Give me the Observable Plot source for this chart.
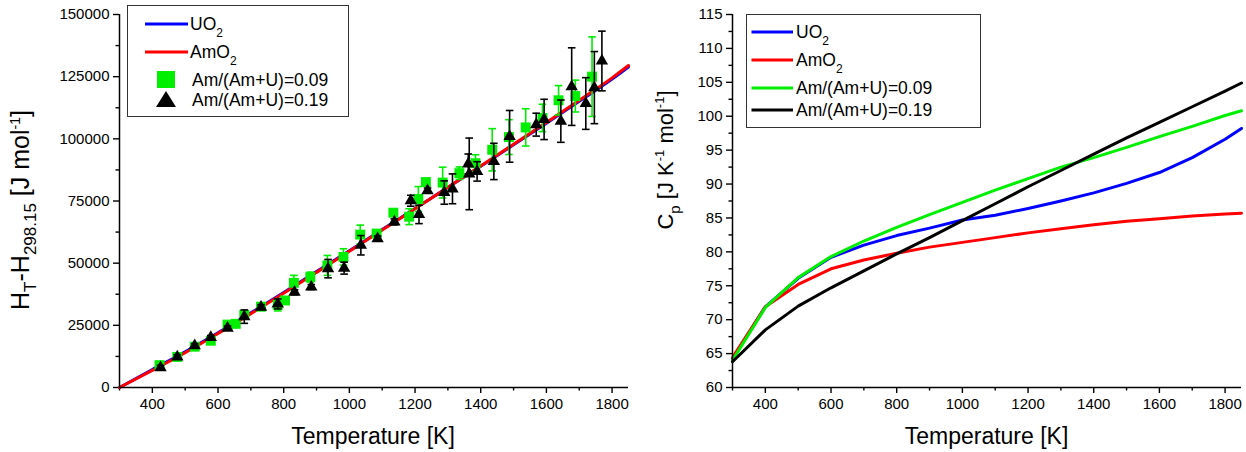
<!DOCTYPE html>
<html>
<head>
<meta charset="utf-8">
<script src="https://cdn.jsdelivr.net/npm/d3@7"></script>
<script src="https://cdn.jsdelivr.net/npm/@observablehq/plot@0.6"></script>
<style>
  html, body { margin: 0; padding: 0; background: #fff; }
  #wrap { position: relative; width: 1246px; height: 452px; overflow: hidden; background: #fff; }
  #left, #right { position: absolute; top: 0; }
  #left { left: 0; }
  #right { left: 640px; }
</style>
</head>
<body>
<div id="wrap"><div id="left"></div><div id="right"></div></div>
<script>
// ---------- DATA ----------
// Temperature grid of the calculated curves (K)
const tempGrid = [300, 400, 500, 600, 700, 800, 900, 1000, 1100, 1200, 1300, 1400, 1500, 1600, 1700, 1800, 1850];

// Left panel: enthalpy increment H_T - H_298.15 (J/mol)
const hUO2  = [0, 7200, 14400, 22000, 30000, 38200, 46600, 55000, 63500, 72000, 80500, 89000, 97600, 106300, 115100, 124000, 128900];
const hAmO2 = [0, 6900, 14000, 21700, 29700, 37900, 46300, 54800, 63300, 71900, 80500, 89100, 97800, 106600, 115500, 124500, 129500];

// Experimental points, Am/(Am+U)=0.09
const expT09   = [422, 476, 529, 578, 629, 654, 680, 731, 782, 804, 831, 881, 933, 982, 1033, 1083, 1134, 1182, 1210, 1233, 1284, 1335, 1384, 1435, 1486, 1537, 1588, 1637, 1688, 1739];
const expH09   = [9000, 12300, 16400, 18800, 25300, 25600, 29200, 32500, 33200, 35000, 42100, 44400, 49100, 52500, 61500, 61900, 70300, 68700, 75800, 82600, 82400, 86200, 90200, 95600, 100700, 104600, 108400, 115500, 117200, 125000];
const expErr09 = [800, 900, 1000, 1200, 1200, 1000, 1500, 1200, 2400, 800, 3000, 2000, 4000, 3300, 3800, 1200, 1000, 3200, 5000, 1500, 6200, 2500, 3400, 8500, 7000, 7500, 5500, 5900, 6400, 16000];

// Experimental points, Am/(Am+U)=0.19
const expT19   = [425, 476, 529, 578, 629, 680, 731, 782, 833, 884, 935, 984, 1035, 1086, 1137, 1187, 1212, 1238, 1289, 1314, 1365, 1362, 1389, 1440, 1488, 1569, 1593, 1644, 1677, 1720, 1746, 1769];
const expH19   = [8000, 12300, 16800, 20100, 23900, 28500, 32300, 33600, 38300, 40400, 47800, 48000, 57200, 59900, 66600, 75100, 69600, 79200, 78400, 79900, 85900, 89900, 86900, 90900, 101000, 105700, 107800, 107100, 121000, 114200, 120600, 131300];
const expErr19 = [900, 900, 800, 800, 800, 2700, 1000, 2000, 1000, 1000, 3700, 2400, 3900, 1000, 1200, 2200, 3700, 1000, 4700, 6000, 14400, 4000, 3900, 7300, 10400, 4600, 8100, 8500, 15600, 10400, 14500, 12000];

// Right panel: heat capacity Cp (J/K/mol)
const cpUO2  = [64.2, 71.9, 76.1, 79.2, 81.0, 82.4, 83.5, 84.7, 85.4, 86.4, 87.5, 88.7, 90.1, 91.7, 93.9, 96.6, 98.2];
const cpAmO2 = [64.4, 71.9, 75.2, 77.5, 78.8, 79.8, 80.7, 81.4, 82.1, 82.8, 83.4, 84.0, 84.5, 84.9, 85.3, 85.6, 85.7];
const cpAm09 = [64.0, 71.8, 76.2, 79.3, 81.6, 83.6, 85.5, 87.3, 89.1, 90.8, 92.5, 93.9, 95.4, 97.0, 98.5, 100.1, 100.8];
const cpAm19 = [63.8, 68.5, 72.0, 74.7, 77.2, 79.7, 82.1, 84.6, 87.1, 89.6, 92.0, 94.4, 96.8, 99.1, 101.4, 103.7, 104.9];

// Tick values
const xMajor = [400, 600, 800, 1000, 1200, 1400, 1600, 1800];
const xMinor = [300, 500, 700, 900, 1100, 1300, 1500, 1700];
const hMajor = [0, 25000, 50000, 75000, 100000, 125000, 150000];
const hMinor = [12500, 37500, 62500, 87500, 112500, 137500];
const cpMajor = [60, 65, 70, 75, 80, 85, 90, 95, 100, 105, 110, 115];
const cpMinor = [62.5, 67.5, 72.5, 77.5, 82.5, 87.5, 92.5, 97.5, 102.5, 107.5, 112.5];

// Legend labels
const legendLeft  = [["UO", "2"], ["AmO", "2"], ["Am/(Am+U)=0.09", ""], ["Am/(Am+U)=0.19", ""]];
const legendRight = [["UO", "2"], ["AmO", "2"], ["Am/(Am+U)=0.09", ""], ["Am/(Am+U)=0.19", ""]];

// ---------- BUILD TABLES ----------
const BLUE = "#0000ff", RED = "#ff0000", GREEN = "#00ee00", BLACK = "#000000";
const FONT = "'Liberation Sans', Arial, Helvetica, sans-serif";

const curveH = [];
tempGrid.forEach((t, i) => curveH.push({T: t, v: hUO2[i], s: "UO2"}));
tempGrid.forEach((t, i) => curveH.push({T: t, v: hAmO2[i], s: "AmO2"}));
const pts09 = expT09.map((t, i) => ({T: t, H: expH09[i], e: expErr09[i]}));
const pts19 = expT19.map((t, i) => ({T: t, H: expH19[i], e: expErr19[i]}));

const cpSeries = [["UO2", cpUO2, BLUE], ["AmO2", cpAmO2, RED], ["0.09", cpAm09, GREEN], ["0.19", cpAm19, BLACK]];
const curveCp = cpSeries.flatMap(([s, arr]) => tempGrid.map((t, i) => ({T: t, v: arr[i], s})));

const capSymbol = {
  draw(context, size) {
    const w = Math.sqrt(size / Math.PI);
    context.moveTo(-w, 0);
    context.lineTo(w, 0);
  }
};

const fmt = d3.format("d");
function axes(major, minor, yMajor, yMinor) {
  return [
    Plot.axisX({ticks: major, tickSize: 6, tickPadding: 5, tickFormat: fmt, label: null, fontSize: 15, strokeWidth: 1.4}),
    Plot.axisX({ticks: minor, tickSize: 3.5, tickFormat: () => "", label: null, strokeWidth: 1.4}),
    Plot.axisY({ticks: yMajor, tickSize: 6, tickPadding: 4, tickFormat: fmt, label: null, fontSize: 15, strokeWidth: 1.4}),
    Plot.axisY({ticks: yMinor, tickSize: 3.5, tickFormat: () => "", label: null, strokeWidth: 1.4})
  ];
}

function errorBars(data, color) {
  return [
    Plot.ruleX(data, {x: "T", y1: d => d.H - d.e, y2: d => d.H + d.e, stroke: color, strokeWidth: 1.6}),
    Plot.dot(data, {x: "T", y: d => d.H - d.e, symbol: capSymbol, r: 3.8, stroke: color, fill: "none", strokeWidth: 1.6}),
    Plot.dot(data, {x: "T", y: d => d.H + d.e, symbol: capSymbol, r: 3.8, stroke: color, fill: "none", strokeWidth: 1.6})
  ];
}

const left = Plot.plot({
  width: 640, height: 452,
  marginLeft: 119, marginRight: 12, marginTop: 14, marginBottom: 65,
  style: {fontFamily: FONT, fontSize: "15px", color: "#000", background: "#fff", overflow: "visible"},
  x: {domain: [300, 1850]},
  y: {domain: [0, 150000]},
  marks: [
    ...axes(xMajor, xMinor, hMajor, hMinor),
    Plot.line(curveH.filter(d => d.s === "UO2"), {x: "T", y: "v", stroke: BLUE, strokeWidth: 3, curve: "monotone-x"}),
    Plot.line(curveH.filter(d => d.s === "AmO2"), {x: "T", y: "v", stroke: RED, strokeWidth: 3, curve: "monotone-x"}),
    ...errorBars(pts09, GREEN),
    Plot.dot(pts09, {x: "T", y: "H", symbol: "square", r: 5.6, fill: GREEN, stroke: "none"}),
    ...errorBars(pts19, BLACK),
    Plot.dot(pts19, {x: "T", y: "H", symbol: "triangle", r: 4.6, fill: BLACK, stroke: "none"}),
    Plot.ruleX([300], {stroke: "#000", strokeWidth: 1.5}),
    Plot.ruleY([0], {stroke: "#000", strokeWidth: 1.5})
  ]
});

const right = Plot.plot({
  width: 606, height: 452,
  marginLeft: 92, marginRight: 5, marginTop: 14, marginBottom: 65,
  style: {fontFamily: FONT, fontSize: "15px", color: "#000", background: "#fff", overflow: "visible"},
  x: {domain: [300, 1850]},
  y: {domain: [60, 115]},
  marks: [
    ...axes(xMajor, xMinor, cpMajor, cpMinor),
    ...cpSeries.map(([s, , c]) => Plot.line(curveCp.filter(d => d.s === s), {x: "T", y: "v", stroke: c, strokeWidth: 3})),
    Plot.ruleX([300], {stroke: "#000", strokeWidth: 1.5}),
    Plot.ruleY([60], {stroke: "#000", strokeWidth: 1.5})
  ]
});

document.getElementById("left").appendChild(left);
document.getElementById("right").appendChild(right);

// ---------- rich text helper (titles with sub/superscripts) ----------
function richText(svg, x, y, parts, {rotate = 0, anchor = "middle", size = 21} = {}) {
  const t = d3.select(svg).append("text")
    .attr("transform", `translate(${x},${y})` + (rotate ? ` rotate(${rotate})` : ""))
    .attr("text-anchor", anchor)
    .attr("font-family", FONT)
    .attr("font-size", size)
    .attr("fill", "#000");
  let cur = 0;
  for (const p of parts) {
    const shift = p.shift || 0;
    t.append("tspan").attr("dy", shift - cur).attr("font-size", p.size || size).text(p.t);
    cur = shift;
  }
  return t;
}

// x titles
richText(left, 373, 444, [{t: "Temperature [K]"}], {size: 23});
richText(right, 92 + 254.5, 444, [{t: "Temperature [K]"}], {size: 23});

// y titles
richText(left, 29, 210, [
  {t: "H"}, {t: "T", shift: 7, size: 17}, {t: "-H"}, {t: "298.15", shift: 7, size: 17},
  {t: " [J mol"}, {t: "-1", shift: -9, size: 14}, {t: "]"}
], {rotate: -90, size: 25});
richText(right, 33, 160, [
  {t: "C"}, {t: "p", shift: 7, size: 15}, {t: " [J K"}, {t: "-1", shift: -9, size: 13},
  {t: " mol"}, {t: "-1", shift: -9, size: 13}, {t: "]"}
], {rotate: -90, size: 22});

// ---------- legends ----------
function legend(svg, box, rows) {
  const g = d3.select(svg).append("g").attr("text-anchor", "start");
  g.append("rect").attr("x", box.x).attr("y", box.y).attr("width", box.w).attr("height", box.h)
    .attr("fill", "#fff").attr("stroke", "#333").attr("stroke-width", 1);
  rows.forEach(r => {
    if (r.kind === "line") {
      g.append("line").attr("x1", r.x1).attr("x2", r.x2).attr("y1", r.y).attr("y2", r.y)
        .attr("stroke", r.color).attr("stroke-width", 3);
    } else if (r.kind === "square") {
      g.append("rect").attr("x", r.cx - 9).attr("y", r.y - 9).attr("width", 18).attr("height", 17).attr("fill", r.color);
    } else if (r.kind === "triangle") {
      g.append("path").attr("d", `M${r.cx},${r.y - 9}L${r.cx + 10},${r.y + 7}L${r.cx - 10},${r.y + 7}Z`).attr("fill", r.color);
    }
    const parts = [{t: r.label[0]}];
    if (r.label[1]) parts.push({t: r.label[1], shift: 7, size: 12});
    const t = g.append("text").attr("x", r.tx).attr("y", r.y + 6).attr("text-anchor", "start")
      .attr("font-family", FONT).attr("font-size", 17.5).attr("fill", "#000");
    let cur = 0;
    for (const p of parts) {
      const shift = p.shift || 0;
      t.append("tspan").attr("dy", shift - cur).attr("font-size", p.size || 17.5).text(p.t);
      cur = shift;
    }
  });
}

legend(left, {x: 127.5, y: 5.5, w: 221, h: 111}, [
  {kind: "line", x1: 145, x2: 188, y: 24, color: BLUE, tx: 190, label: legendLeft[0]},
  {kind: "line", x1: 145, x2: 188, y: 52, color: RED, tx: 190, label: legendLeft[1]},
  {kind: "square", cx: 166, y: 80, color: GREEN, tx: 192, label: legendLeft[2]},
  {kind: "triangle", cx: 166, y: 100, color: BLACK, tx: 192, label: legendLeft[3]}
]);

legend(right, {x: 106.5, y: 14.5, w: 234, h: 113}, [
  {kind: "line", x1: 111.5, x2: 153, y: 32, color: BLUE, tx: 156, label: legendRight[0]},
  {kind: "line", x1: 111.5, x2: 153, y: 60, color: RED, tx: 156, label: legendRight[1]},
  {kind: "line", x1: 111.5, x2: 153, y: 88, color: GREEN, tx: 156, label: legendRight[2]},
  {kind: "line", x1: 111.5, x2: 153, y: 110, color: BLACK, tx: 156, label: legendRight[3]}
]);
</script>
</body>
</html>
